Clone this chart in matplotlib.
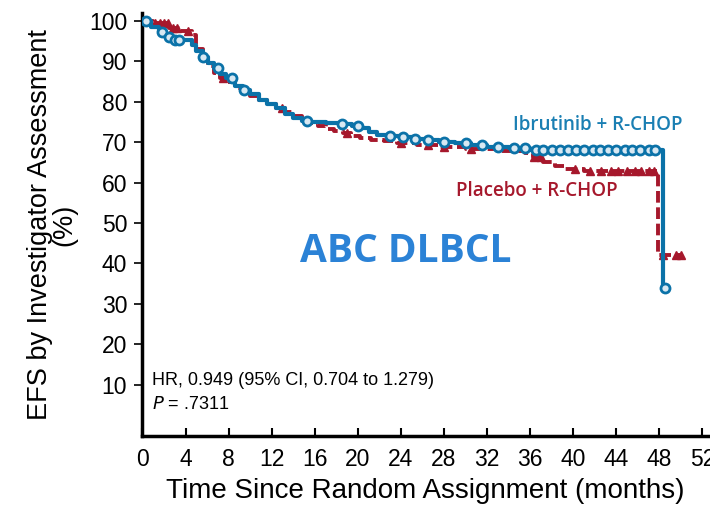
import numpy as np
import matplotlib.pyplot as plt

# Ibrutinib + R-CHOP (step curve, months / % event free)
ibr_t = [0, 0.8, 1.5, 2.2, 2.8, 4.6, 5.0, 5.6, 6.1, 6.6, 7.2, 7.8, 8.6, 9.3, 10.0, 10.8,
         11.6, 12.4, 13.2, 14.0, 14.8, 15.5, 17.0, 18.5, 19.5, 20.3, 21.0, 21.8, 22.8,
         23.8, 25.0, 26.2, 27.5, 29.0, 30.5, 32.0, 34.0, 36.0, 48.3, 48.5]
ibr_s = [100, 98.5, 97.3, 96, 95.3, 94, 92.5, 91, 89.7, 88.5, 87, 85.8, 84, 83, 82, 80.5,
         79.5, 78.5, 77, 76, 75.3, 75, 74.7, 74.5, 74, 73.5, 72.6, 71.9, 71.5,
         71.2, 70.8, 70.5, 70, 69.8, 69.3, 68.8, 68.5, 68.2, 34, 34]
ibr_cens = [0.3, 1.8, 2.5, 3.0, 3.4, 5.6, 7.0, 8.3, 9.4, 15.3, 18.5, 20.0, 23.0, 24.2,
            25.3, 26.5, 28.0, 30.0, 31.5, 33.0, 34.5, 35.5, 36.5, 37.2, 38.0, 38.8, 39.5,
            40.3, 41.0, 41.8, 42.5, 43.2, 44.0, 44.8, 45.5, 46.2, 47.0, 47.6, 48.5]

# Placebo + R-CHOP
pla_t = [0, 1.0, 2.5, 3.5, 4.6, 5.0, 5.6, 6.1, 6.6, 7.2, 7.8, 8.6, 9.3, 10.0, 10.8, 11.6,
         12.4, 13.2, 14.0, 14.8, 15.6, 16.3, 17.0, 17.8, 18.6, 19.4, 20.2, 21.2, 22.4,
         23.6, 25.5, 27.6, 30.0, 33.0, 35.5, 36.3, 37.2, 38.3, 39.2, 41.0, 47.9, 50.0]
pla_s = [100, 99.4, 98.4, 97.5, 96.5, 93, 90.5, 88.8, 87.2, 86, 84.8, 83.5, 82.5, 81.5,
         80.5, 79.5, 78.5, 77.5, 76.5, 75.5, 74.8, 74, 73.2, 72.8, 72.2, 71.6, 71, 70.6,
         70.2, 69.8, 69.3, 68.8, 68.3, 67.8, 67.3, 66.3, 65.2, 64.2, 63.3, 62.8, 42, 42]
pla_cens = [1.2, 1.6, 2.0, 2.4, 2.8, 3.2, 4.2, 7.5, 13.0, 19.0, 24.0, 26.5, 28.0, 30.5,
            36.4, 37.0, 40.2, 41.6, 42.6, 43.5, 44.2, 45.0, 45.7, 46.3, 47.0, 47.5,
            48.3, 49.5, 50.0]

x_ticks = list(range(0, 53, 4))
y_ticks = list(range(10, 101, 10))

blue = '#0b72a8'
red = '#a6182c'


def step_value(times, surv, when):
    idx = np.searchsorted(times, when, side='right') - 1
    return np.array(surv)[idx]


plt.rcParams['font.family'] = ['Liberation Sans', 'DejaVu Sans']

fig = plt.figure(figsize=(7.1, 5.11), dpi=100)
ax = fig.add_axes([0.2007, 0.1468, 0.7963, 0.8278])

ax.step(ibr_t, ibr_s, where='post', color=blue, lw=3.0, zorder=3)
ax.plot(ibr_cens, step_value(ibr_t, ibr_s, ibr_cens), 'o', ms=6.5, mfc='#d8e8f2',
        mec=blue, mew=2.0, zorder=4, linestyle='none')

ax.step(pla_t, pla_s, where='post', color=red, lw=2.8, linestyle=(0, (3, 1.2)), zorder=2)
ax.plot(pla_cens, step_value(pla_t, pla_s, pla_cens), '^', ms=6, color=red,
        zorder=2, linestyle='none')

ax.set_xlim(0, 52.5)
ax.set_ylim(-2.7, 102)
ax.set_xticks(x_ticks)
ax.set_yticks(y_ticks)
ax.tick_params(axis='x', direction='in', length=6, width=1.5, labelsize=16.5, pad=9)
ax.tick_params(axis='y', direction='out', length=6, width=1.2, labelsize=16.5, pad=5)
for side in ['top', 'right']:
    ax.spines[side].set_visible(False)
for side in ['left', 'bottom']:
    ax.spines[side].set_linewidth(2.5)

ax.set_xlabel('Time Since Random Assignment (months)', fontsize=20, labelpad=5)
ax.set_ylabel('EFS by Investigator Assessment\n(%)', fontsize=19.5, labelpad=8,
              linespacing=0.95)

ax.text(0.017, 0.13, 'HR, 0.949 (95% CI, 0.704 to 1.279)', transform=ax.transAxes,
        fontsize=13, va='center')
ax.text(0.017, 0.075, '$P$ = .7311', transform=ax.transAxes, fontsize=13, va='center')

ax.text(0.466, 0.437, 'ABC DLBCL', transform=ax.transAxes, fontsize=28,
        fontweight='bold', color='#2b82d6', ha='center', va='center',
        family=['Open Sans', 'DejaVu Sans'])
ax.text(0.955, 0.735, 'Ibrutinib + R-CHOP', transform=ax.transAxes, fontsize=13.5,
        color='#1a7fb3', ha='right', va='center', fontweight='semibold',
        family=['Open Sans', 'DejaVu Sans'])
ax.text(0.84, 0.578, 'Placebo + R-CHOP', transform=ax.transAxes, fontsize=13.5,
        color=red, ha='right', va='center', fontweight='semibold',
        family=['Open Sans', 'DejaVu Sans'])

fig.savefig('out.png', dpi=100)
